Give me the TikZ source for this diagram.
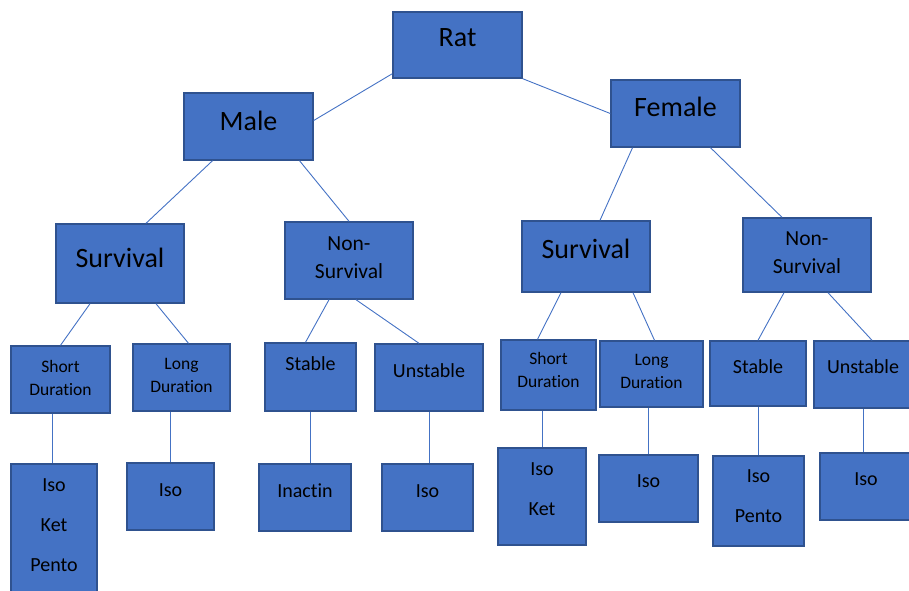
\documentclass[tikz,border=0pt]{standalone}
\usepackage{fontspec}
\setmainfont[Ligatures=NoCommon]{Carlito}
\usepackage{tikz}
\definecolor{boxfill}{HTML}{4472C4}
\definecolor{boxedge}{HTML}{2F528F}

\begin{document}
\begin{tikzpicture}[x=1pt, y=-1pt,
    box/.style={draw=boxedge, fill=boxfill, line width=1.4pt, inner sep=0pt, align=center, text depth=13pt},
    big/.style={font=\fontsize{28}{34}\selectfont},
    mid/.style={font=\fontsize{21.5}{28}\selectfont},
    small/.style={font=\fontsize{17.5}{23}\selectfont},
    leaf/.style={font=\fontsize{20}{40}\selectfont},
    link/.style={draw=boxfill, line width=0.9pt}]
  \useasboundingbox (0,0) rectangle (909,590);
  % top levels
  \node[box, big, minimum width=129pt, minimum height=66pt, text depth=14pt] (rat) at (457.5,45) {Rat};
  \node[box, big, minimum width=129pt, minimum height=67pt, text depth=12pt] (male) at (248.5,126.5) {Male};
  \node[box, big, minimum width=129pt, minimum height=67pt, text depth=14pt] (female) at (675.5,113.5) {Female};
  \node[box, big, minimum width=128pt, minimum height=79pt, text depth=12pt] (survL) at (120,263.5) {Survival};
  \node[box, mid, minimum width=128pt, minimum height=77pt, text depth=6pt] (nonsL) at (349,260.5) {Non-\\Survival};
  \node[box, big, minimum width=128pt, minimum height=71pt, text depth=16pt] (survR) at (586,256.5) {Survival};
  \node[box, mid, minimum width=128pt, minimum height=74pt, text depth=4pt] (nonsR) at (807,255) {Non-\\Survival};
  % third level
  \node[box, small, minimum width=99pt, minimum height=67pt, text depth=4pt] (shortL) at (60.5,379.5) {Short\\Duration};
  \node[box, small, minimum width=97pt, minimum height=67pt, text depth=4pt] (longL) at (181.5,377.5) {Long\\Duration};
  \node[box, leaf, minimum width=91pt, minimum height=68pt, text depth=26pt] (stabL) at (310.5,377) {Stable};
  \node[box, leaf, minimum width=108pt, minimum height=67pt, text depth=14pt] (unstL) at (429,377.5) {Unstable};
  \node[box, small, minimum width=95pt, minimum height=70pt, text depth=10pt] (shortR) at (548.5,375) {Short\\Duration};
  \node[box, small, minimum width=103pt, minimum height=66pt, text depth=5pt] (longR) at (651.5,374) {Long\\Duration};
  \node[box, leaf, minimum width=96pt, minimum height=65pt] (stabR) at (758,373.5) {Stable};
  \node[box, leaf, minimum width=98pt, minimum height=67pt, text depth=15pt] (unstR) at (863,374.5) {Unstable};
  % drugs
  \node[box, leaf, minimum width=86pt, minimum height=136pt, text depth=14pt] (isoKP) at (54,532) {Iso\\Ket\\Pento};
  \node[box, leaf, minimum width=87pt, minimum height=67pt] (isoL) at (170.5,496.5) {Iso};
  \node[box, leaf, minimum width=92pt, minimum height=67pt] (inact) at (305,497.5) {Inactin};
  \node[box, leaf, minimum width=91pt, minimum height=67pt] (isoU) at (427.5,497.5) {Iso};
  \node[box, leaf, minimum width=88pt, minimum height=97pt, text depth=15pt] (isoK) at (542,496.5) {Iso\\Ket};
  \node[box, leaf, minimum width=99pt, minimum height=67pt, text depth=15pt] (isoLR) at (648.5,488.5) {Iso};
  \node[box, leaf, minimum width=91pt, minimum height=90pt, text depth=9pt] (isoP) at (758.5,501) {Iso\\Pento};
  \node[box, leaf, minimum width=92pt, minimum height=67pt, text depth=15pt] (isoUR) at (866,486.5) {Iso};
  % links
  \draw[link] ([yshift=5pt]rat.south west) -- ([yshift=6pt]male.east);
  \draw[link] (rat.south east) -- (female.west);
  \draw[link] ([xshift=-36pt]male.south) -- ([xshift=26pt]survL.north);
  \draw[link] ([xshift=51pt]male.south) -- (nonsL.north);
  \draw[link] ([xshift=-43pt]female.south) -- ([xshift=14pt]survR.north);
  \draw[link] ([xshift=35pt]female.south) -- ([xshift=-25pt]nonsR.north);
  \draw[link] ([xshift=-30pt]survL.south) -- (shortL.north);
  \draw[link] ([xshift=36pt]survL.south) -- ([xshift=7pt]longL.north);
  \draw[link] ([xshift=-20pt]nonsL.south) -- ([xshift=-5pt]stabL.north);
  \draw[link] ([xshift=7pt]nonsL.south) -- ([xshift=-10pt]unstL.north);
  \draw[link] ([xshift=-25pt]survR.south) -- ([xshift=-11pt]shortR.north);
  \draw[link] ([xshift=47pt]survR.south) -- ([xshift=3pt]longR.north);
  \draw[link] ([xshift=-23pt]nonsR.south) -- (stabR.north);
  \draw[link] ([xshift=21pt]nonsR.south) -- ([xshift=9pt]unstR.north);
  \draw[link] ([xshift=-8pt]shortL.south) -- ([xshift=-8pt]shortL.south |- isoKP.north);
  \draw[link] (longL.south -| isoL.north) -- (isoL.north);
  \draw[link] (stabL.south) -- (stabL.south |- inact.north);
  \draw[link] (unstL.south) -- (unstL.south |- isoU.north);
  \draw[link] (shortR.south -| isoK.north) -- (isoK.north);
  \draw[link] (longR.south -| isoLR.north) -- (isoLR.north);
  \draw[link] (stabR.south) -- (stabR.south |- isoP.north);
  \draw[link] (unstR.south) -- (unstR.south |- isoUR.north);
\end{tikzpicture}
\end{document}
